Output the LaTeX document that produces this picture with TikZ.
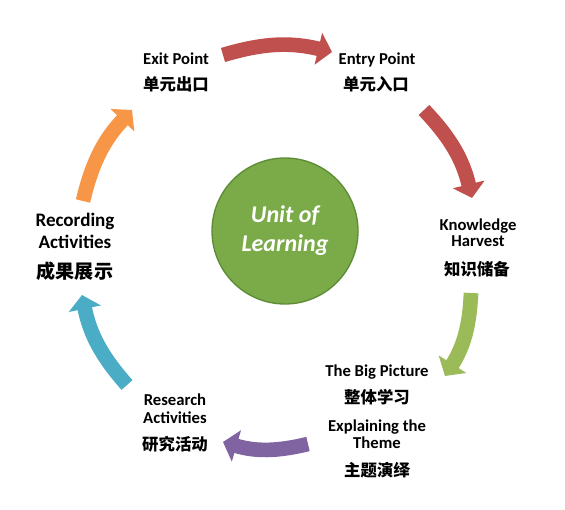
\documentclass[tikz,border=0pt]{standalone}
\usepackage{fontspec}
\setmainfont{Carlito}
\newfontfamily\cjk{Noto Sans CJK SC}
\usetikzlibrary{arrows.meta}
\definecolor{cred}{HTML}{C0504D}
\definecolor{cgreen}{HTML}{9BBB59}
\definecolor{cpurple}{HTML}{8064A2}
\definecolor{cteal}{HTML}{4BACC6}
\definecolor{corange}{HTML}{F79646}
\definecolor{cfill}{HTML}{7AAB48}
\definecolor{cedge}{HTML}{5E8C36}
\tikzset{
  lab/.style={font=\bfseries\fontsize{12.5}{14}\selectfont, anchor=base, inner sep=0pt},
  biglab/.style={font=\bfseries\fontsize{14.3}{16}\selectfont, anchor=base, inner sep=0pt},
  cjklab/.style={font=\cjk\bfseries\fontsize{12.3}{14}\selectfont, anchor=base, inner sep=0pt},
  bigcjk/.style={font=\cjk\bfseries\fontsize{14.3}{16}\selectfont, anchor=base, inner sep=0pt},
  cyclearrow/.style={line width=11pt, -{Triangle[length=10.5pt, width=24pt]}},
}
\begin{document}
\begin{tikzpicture}[x=0.75pt, y=-0.75pt]
\useasboundingbox (0,0) rectangle (565,510);
% centre
\node[circle, fill=cfill, draw=cedge, line width=1pt, minimum size=146*0.75pt, inner sep=0pt,
      font=\bfseries\itshape\fontsize{18}{21.75}\selectfont, text=white, align=center] (unit) at (285,231) {Unit of\\Learning};

% labels
\node[lab] (exit) at (176,65) {Exit Point};
\node[cjklab] (exitc) at (176,91) {单元出口};
\node[lab] (entry) at (377,65) {Entry Point};
\node[cjklab] (entryc) at (376,91) {单元入口};
\node[lab] (know) at (478,230) {Knowledge};
\node[lab] (harv) at (478,247) {Harvest};
\node[cjklab] (harvc) at (477,275) {知识储备};
\node[lab] (big) at (377,376) {The Big Picture};
\node[cjklab] (bigc) at (377,403) {整体学习};
\node[lab] (expl) at (377,431) {Explaining the};
\node[lab] (theme) at (377,448) {Theme};
\node[cjklab] (themec) at (377,476) {主题演绎};
\node[lab] (res) at (175,405) {Research};
\node[lab] (resa) at (175,423) {Activities};
\node[cjklab] (resc) at (175,450) {研究活动};
\node[biglab] (rec) at (75,227) {Recording};
\node[biglab] (reca) at (75,248) {Activities};
\node[bigcjk] (recc) at (75,278) {成果展示};

% arrow ends
\coordinate (a1s) at (223,55);  \coordinate (a1e) at (332,52);
\coordinate (a2s) at (424,110); \coordinate (a2e) at (472,198);
\coordinate (a3s) at (471,293); \coordinate (a3e) at (445,376);
\coordinate (a4s) at (308,444); \coordinate (a4e) at (223,442);
\coordinate (a5s) at (127,385); \coordinate (a5e) at (82,295);
\coordinate (a6s) at (83,201);  \coordinate (a6e) at (132,110);

\draw[cyclearrow, cred] (a1s) to[bend left=15] (a1e);
\draw[cyclearrow, cred] (a2s) to[bend left=15] (a2e);
\draw[cyclearrow, cgreen] (a3s) to[bend left=15] (a3e);
\draw[cyclearrow, cpurple] (a4s) to[bend left=15] (a4e);
\draw[cyclearrow, cteal] (a5s) to[bend left=15] (a5e);
\draw[cyclearrow, corange] (a6s) to[bend left=15] (a6e);
\end{tikzpicture}
\end{document}
